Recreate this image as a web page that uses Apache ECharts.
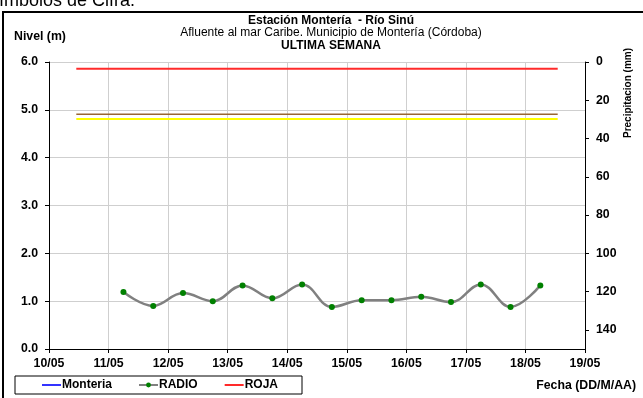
<!DOCTYPE html>
<html>
<head>
<meta charset="utf-8">
<script src="https://cdn.jsdelivr.net/npm/echarts@6/dist/echarts.min.js"></script>
<style>
html,body{margin:0;padding:0;background:#fff;}
#chart{width:643px;height:398px;}
</style>
</head>
<body>
<div id="chart"></div>
<script>
// Time stamps of the RADIO readings (day/month hour)
const radioTimes = ["11/05 06:00","11/05 18:00","12/05 06:00","12/05 18:00","13/05 06:00","13/05 18:00","14/05 06:00","14/05 18:00","15/05 06:00","15/05 18:00","16/05 06:00","16/05 18:00","17/05 06:00","17/05 18:00","18/05 06:00"];
// River level (m)
const radioValues = [1.19, 0.90, 1.17, 1.00, 1.33, 1.06, 1.35, 0.88, 1.02, 1.02, 1.09, 0.98, 1.35, 0.88, 1.33];
// Alert thresholds (m) and their time span
const thresholdSpan = ["10/05 11:00", "18/05 13:00"];
const rojaLevel = 5.86;
const naranjaLevel = 4.91;
const amarillaLevel = 4.81;
const monteriaValues = [];
// Axis ticks
const xTickDays = [10, 11, 12, 13, 14, 15, 16, 17, 18, 19];
const yLeftTicks = [0, 1, 2, 3, 4, 5, 6];
const yRightTicks = [0, 20, 40, 60, 80, 100, 120, 140];

function toDay(s) {
  const [d, t] = s.split(' ');
  const day = parseInt(d.split('/')[0], 10);
  const [hh, mm] = t.split(':').map(Number);
  return day + (hh + mm / 60) / 24;
}

const radioData = radioTimes.map((t, i) => [toDay(t), radioValues[i]]);
const spanData = (lvl) => thresholdSpan.map(t => [toDay(t), lvl]);

const FONT = 'Liberation Sans, Arial, sans-serif';
const LBL = 12.3;
const chart = echarts.init(document.getElementById('chart'), null, {renderer: 'canvas'});

chart.setOption({
  animation: false,
  backgroundColor: '#fff',
  grid: {left: 49, right: 58, top: 62, bottom: 49, containLabel: false},
  xAxis: {
    type: 'value',
    min: xTickDays[0], max: xTickDays[xTickDays.length - 1], interval: 1,
    axisLine: {show: true, onZero: false, lineStyle: {color: '#000', width: 1}},
    axisTick: {show: true, length: 4, lineStyle: {color: '#000'}},
    axisLabel: {
      color: '#000', fontFamily: FONT, fontWeight: 'bold', fontSize: LBL, margin: 9,
      formatter: v => (v < 10 ? '0' : '') + v + '/05'
    },
    splitLine: {show: true, lineStyle: {color: '#cfcfcf', width: 1}}
  },
  yAxis: [
    {
      type: 'value', min: yLeftTicks[0], max: yLeftTicks[yLeftTicks.length - 1], interval: 1,
      axisLine: {show: true, lineStyle: {color: '#000', width: 1}},
      axisTick: {show: true, length: 4, lineStyle: {color: '#000'}},
      axisLabel: {color: '#000', fontFamily: FONT, fontWeight: 'bold', fontSize: LBL, margin: 11,
        formatter: v => v.toFixed(1)},
      splitLine: {show: true, lineStyle: {color: '#cfcfcf', width: 1}}
    },
    {
      type: 'value', position: 'right', inverse: true,
      min: 0, max: 150, interval: 20,
      axisLine: {show: true, lineStyle: {color: '#000', width: 1}},
      axisTick: {show: true, length: 4, lineStyle: {color: '#000'}},
      axisLabel: {color: '#000', fontFamily: FONT, fontWeight: 'bold', fontSize: LBL, margin: 11,
        showMaxLabel: false,
        formatter: v => (yRightTicks.indexOf(v) >= 0 ? String(v) : '')},
      splitLine: {show: false}
    }
  ],
  legend: {
    data: [
      {name: 'Monteria', itemStyle: {opacity: 0}},
      {name: 'RADIO'},
      {name: 'ROJA', itemStyle: {opacity: 0}}
    ],
    left: 15, top: 376,
    orient: 'horizontal',
    itemWidth: 19, itemHeight: 6, itemGap: 26,
    padding: [3, 24, 3, 26],
    borderColor: '#000', borderWidth: 1,
    textStyle: {color: '#000', fontFamily: FONT, fontWeight: 'bold', fontSize: 12, padding: [0, 0, 0, -4]},
    selectedMode: false
  },
  graphic: [
    {type: 'rect', shape: {x: 3, y: 12, width: 700, height: 400}, style: {fill: 'none', stroke: '#000', lineWidth: 2}, silent: true},
    {type: 'text', x: -10, y: -8, style: {text: 'símbolos de Cifra.', fontFamily: FONT, fontSize: 18, fill: '#000'}},
    {type: 'text', x: 331, y: 15, style: {text: 'Estación Montería  - Río Sinú', textAlign: 'center', fontFamily: FONT, fontWeight: 'bold', fontSize: 12, fill: '#000'}},
    {type: 'text', x: 331, y: 27, style: {text: 'Afluente al mar Caribe. Municipio de Montería (Córdoba)', textAlign: 'center', fontFamily: FONT, fontSize: 12, fill: '#000'}},
    {type: 'text', x: 331, y: 39.5, style: {text: 'ULTIMA SEMANA', textAlign: 'center', fontFamily: FONT, fontWeight: 'bold', fontSize: 12, fill: '#000'}},
    {type: 'text', x: 14, y: 31, style: {text: 'Nivel (m)', fontFamily: FONT, fontWeight: 'bold', fontSize: 12.3, fill: '#000'}},
    {type: 'text', x: 636, y: 380, style: {text: 'Fecha (DD/M/AA)', textAlign: 'right', fontFamily: FONT, fontWeight: 'bold', fontSize: 12.3, fill: '#000'}},
    {type: 'text', x: 623, y: 93, rotation: Math.PI / 2, style: {text: 'Precipitacion (mm)', textAlign: 'center', textVerticalAlign: 'top', fontFamily: FONT, fontWeight: 'bold', fontSize: 10, fill: '#000'}}
  ],
  series: [
    {name: 'Monteria', type: 'line', data: monteriaValues, symbol: 'none', lineStyle: {color: '#3333ff', width: 2}, itemStyle: {color: '#3333ff'}},
    {name: 'RADIO', type: 'line', data: radioData, smooth: 0.4, symbol: 'circle', symbolSize: 6,
      lineStyle: {color: '#808080', width: 2.5}, itemStyle: {color: '#008000', borderWidth: 0}, z: 5},
    {name: 'ROJA', type: 'line', data: spanData(rojaLevel), symbol: 'none', lineStyle: {color: '#ff2a2a', width: 2}, itemStyle: {color: '#ff2a2a'}},
    {name: 'NARANJA', type: 'line', data: spanData(naranjaLevel), symbol: 'none', lineStyle: {color: '#996633', width: 1.5}, itemStyle: {color: '#996633'}},
    {name: 'AMARILLA', type: 'line', data: spanData(amarillaLevel), symbol: 'none', lineStyle: {color: '#ffff00', width: 2}, itemStyle: {color: '#ffff00'}}
  ]
});
</script>
</body>
</html>
